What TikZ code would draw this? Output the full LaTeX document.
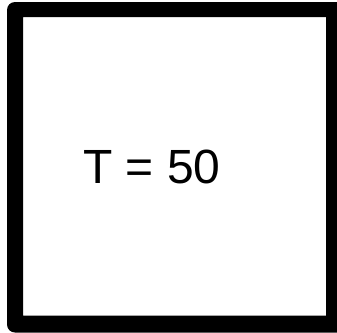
\documentclass[tikz,border=0pt]{standalone}
\usepackage{fontspec}
\setmainfont{Liberation Sans}
\begin{document}
\begin{tikzpicture}[x=1pt,y=-1pt,
  frame/.style={fill=black,even odd rule},
  label/.style={font=\fontsize{48}{56}\selectfont,inner sep=0pt}]
\useasboundingbox (0,0) rectangle (337,332);
\clip (0,0) rectangle (337,332);
\path[frame] [rounded corners=8pt] (7,2) rectangle (352,332.5)
  [sharp corners] (23,17) rectangle (326,315.5);
\node[label,anchor=base] (t) at (152,183) {T = 50};
\end{tikzpicture}
\end{document}
